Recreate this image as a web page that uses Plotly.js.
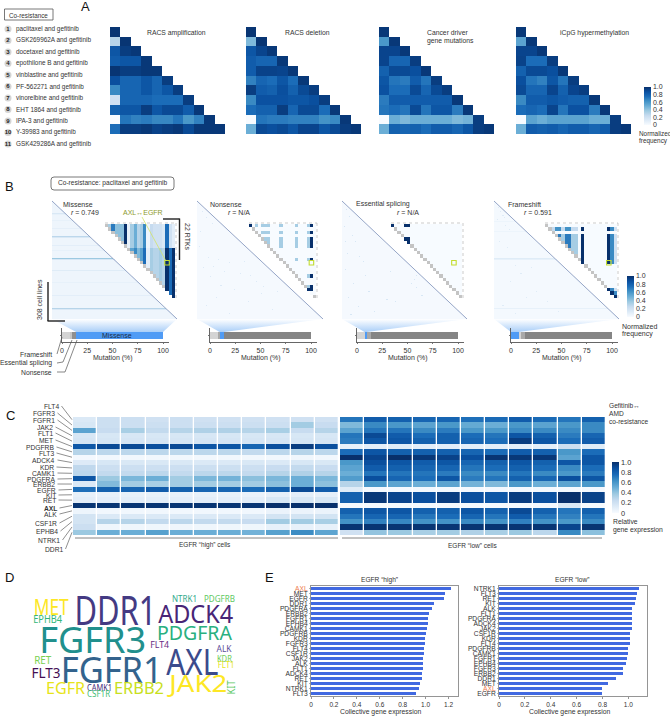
<!DOCTYPE html>
<html><head><meta charset="utf-8">
<script src="https://cdn.plot.ly/plotly-3.0.1.min.js"></script>
<style>html,body{margin:0;padding:0;background:#fff}#c{width:670px;height:717px}</style></head>
<body><div id="c"></div>
<script>
// ---------- DATA ----------
const drugIds=['1','2','3','4','5','6','7','8','9','10','11'];
const drugNames=['paclitaxel and gefitinib','GSK269962A and gefitinib','docetaxel and gefitinib','epothilone B and gefitinib','vinblastine and gefitinib','PF-562271 and gefitinib','vinorelbine and gefitinib','EHT 1864 and gefitinib','IPA-3 and gefitinib','Y-39983 and gefitinib','GSK429286A and gefitinib'];
const racsAmp=[[.98],[.3,.98],[.85,.95,.97],[.82,.85,.85,.97],[.98,.95,.95,.97,.97],[.88,.78,.78,.85,.78,.95],[.65,.78,.78,.85,.78,.85,.95],[.2,.78,.78,.78,.75,.75,.75,.95],[.8,.85,.85,.95,.85,.9,.9,.82,.97],[0,.72,.68,.7,.66,.66,.72,.6,.68,.97],[.75,.95,.95,.97,.93,.95,.97,.9,.97,.97,.97]];
const racsDel=[[.98],[.45,.98],[.85,.92,.97],[.82,.78,.78,.97],[.82,.93,.93,.92,.97],[.68,.78,.75,.85,.75,.97],[.95,.82,.8,.88,.8,.9,.95],[.65,.87,.87,.87,.85,.85,.88,.95],[.75,.8,.8,.95,.78,.9,.9,.75,.97],[0,.72,.7,.7,.68,.68,.68,.62,.65,.97],[.5,.9,.88,.9,.85,.92,.92,.85,.9,.95,.97]];
const driverMut=[[.97],[.6,.97],[.92,.92,.97],[.92,.78,.78,.95],[.8,.9,.9,.88,.97],[.85,.72,.7,.82,.72,.95],[.87,.75,.75,.9,.78,.9,.95],[.7,.82,.82,.82,.82,.82,.82,.97],[.72,.75,.72,.9,.72,.85,.85,.7,.97],[0,.5,.45,.5,.5,.5,.5,.45,.48,.95],[.5,.8,.78,.8,.75,.82,.82,.78,.85,.95,.97]];
const icpgHyper=[[.97],[.55,.97],[.92,.92,.97],[.93,.75,.75,.95],[.8,.9,.9,.88,.97],[.88,.72,.68,.85,.72,.95],[.9,.78,.78,.92,.8,.92,.95],[.65,.82,.82,.85,.82,.8,.8,.97],[.75,.78,.75,.92,.72,.87,.87,.7,.97],[0,.55,.5,.55,.55,.55,.55,.5,.5,.95],[.5,.82,.8,.82,.78,.82,.82,.78,.82,.95,.97]];
const aTitles=['RACS amplification','RACS deletion','Cancer driver','iCpG hypermethylation'];

const rtkRows=['FLT4','FGFR3','FGFR1','JAK2','FLT1','MET','PDGFRB','FLT3','ADCK4','KDR','CAMK1','PDGFRA','ERBB2','EGFR','KIT','RET','AXL','ALK','CSF1R','EPHB4','NTRK1','DDR1'];
const highZ=[
[.14,.22,.22,.2,.22,.2,.2,.2,.2,.2,.2],
[.16,.22,.22,.22,.22,.22,.22,.22,.22,.36,.24],
[.55,.24,.34,.26,.3,.32,.32,.3,.34,.24,.3],
[.16,.16,.16,.16,.16,.16,.16,.16,.16,.16,.16],
[.17,.17,.17,.17,.17,.17,.17,.17,.17,.17,.17],
[.84,.9,.9,.88,.9,.85,.85,.78,.88,.95,.88],
[.3,.28,.28,.28,.28,.28,.28,.26,.28,.3,.28],
[.02,.03,.03,.03,.03,.03,.03,.03,.03,.04,.03],
[.13,.16,.15,.15,.15,.14,.14,.15,.14,.16,.15],
[.27,.22,.22,.22,.22,.22,.22,.22,.24,.26,.24],
[.28,.26,.26,.28,.26,.28,.28,.26,.3,.32,.3],
[.85,.38,.46,.5,.36,.46,.48,.42,.46,.5,.46],
[.14,.44,.36,.34,.36,.36,.36,.36,.42,.5,.42],
[.74,.8,.78,.82,.8,.78,.78,.75,.8,.9,.82],
[.08,.08,.08,.08,.08,.08,.08,.07,.09,.1,.09],
[.1,.1,.1,.1,.1,.1,.1,.1,.16,.16,.16],
[.98,.98,.98,.98,.98,.98,.98,.98,1,1,1],
[.05,.03,.03,.03,.03,.03,.03,.03,.06,.06,.06],
[.18,.14,.14,.14,.14,.14,.14,.14,.18,.18,.18],
[.18,.3,.3,.26,.28,.26,.26,.24,.36,.36,.34],
[.22,.04,.04,.04,.04,.04,.04,.04,.08,.08,.08],
[.38,.5,.5,.56,.5,.5,.5,.48,.56,.64,.54]];
const lowZ=[
[.72,.82,.8,.78,.78,.74,.76,.82,.76,.72,.8],
[.45,.65,.6,.55,.6,.52,.5,.6,.55,.6,.65],
[.55,.72,.72,.65,.7,.6,.6,.65,.65,.65,.65],
[.72,.9,.82,.75,.8,.75,.72,.85,.8,.7,.78],
[.7,.85,.85,.8,.8,.78,.75,.95,.85,.75,.82],
[.08,.1,.12,.1,.1,.1,.1,.1,.1,.22,.12],
[.75,.85,.8,.8,.8,.78,.75,.82,.8,.6,.75],
[1,.92,1,.97,.93,.88,.98,.97,.97,.55,.85],
[.6,.88,.85,.82,.85,.78,.8,.85,.8,.85,.85],
[.55,.82,.8,.78,.78,.72,.75,.8,.75,.65,.75],
[.5,.72,.72,.72,.7,.65,.65,.72,.65,.6,.7],
[.58,.88,.78,.75,.85,.7,.72,.8,.78,.88,.85],
[.3,.6,.55,.5,.55,.48,.45,.6,.5,.55,.6],
[.12,.02,.02,.02,.02,.02,.02,.02,.02,.02,.02],
[.8,.97,.92,.88,.95,.88,.85,.95,.88,1,.93],
[.8,.97,.92,.88,.95,.88,.85,.95,.88,1,.93],
[.01,.01,.01,.01,.01,.01,.01,.01,.02,.14,.01],
[.8,.85,.85,.8,.8,.85,.8,.9,.8,.72,.8],
[.72,.78,.78,.72,.75,.78,.72,.82,.72,.68,.72],
[.62,.68,.66,.62,.62,.65,.62,.68,.62,.6,.65],
[.98,.98,.98,.98,.98,.98,.98,.98,.98,.92,.98],
[.2,.4,.38,.34,.36,.32,.34,.38,.28,.65,.42]];
const labelY=[406,413,420,427,433,440,447,453,460,467,473,479,484,490,495,500,508,514,523,531,540,549];
const labelRight=[60,56,56,54,54,54,55,55,56,55,56,56,56,57,57,57,58,58,58,59,61,64];

const mutNames=['Frameshift','Essential splicing','Nonsense','Missense'];
const mutShare=[7.5,2,4.5,86];
const mutPanels=['Missense','Nonsense','Essential splicing','Frameshift'];
const mutColors=[['#d4d4d4','#c4c4c4','#8f8f8f','#4f9bf5'],['#d4d4d4','#a8a8a8','#4f9bf5','#858585'],['#d4d4d4','#4f9bf5','#a8a8a8','#858585'],['#4f9bf5','#d4d4d4','#a8a8a8','#858585']];
const mutTicks=[0,25,50,75,100];

const msStripeRows=[12,13,19,27,35,36,44,49,57,58,69,81,94,107,108];
const msStripeVals=[.15,.08,.08,.09,.28,.15,.1,.08,.38,.16,.12,.08,.1,.3,.14];
const fsStripeRows=[20,30,57,58,107];
const fsStripeVals=[.05,.05,.12,.08,.08];
const nsDotRow=[10,16,22,30,45,56,58,61,66,72,75,80,84,88,92,96,100,104,108,112,60,70,74,85,65,90];
const nsDotCol=[5,8,14,3,2,10,20,30,6,40,12,55,22,35,60,18,48,8,70,30,44,25,50,62,15,75];
const spDotRow=[8,15,25,34,40,52,60,68,74,74,82,82,90,94,96,100,105,110,113,70,78,86,40,55,98];
const spDotCol=[4,7,2,9,12,5,20,3,22,70,10,65,25,75,6,50,15,30,8,45,68,70,3,16,42];
const fsDotRow=[6,10,14,18,24,40,46,64,72,80,90,96,100,104,110,112,16,28,66];
const fsDotCol=[4,6,8,3,10,5,12,20,25,15,40,30,50,8,60,20,9,14,35];

const msTop=[.35,.35,.7,.42,.42,.42,1,.08,.35,.5,.3,.35,.65,.05,.25,.2,.2,.2,.15,.75,.2,.1];
const msBottom=[.35,.35,.7,.42,.42,.42,1,.2,.55,.65,.45,.55,.75,.1,.35,.3,.3,.35,.3,1,.75,1];
const nsRows=[0,2,4,5,6,10,15,18,19];
const nsCols=[0,2,4,5,6,10,15,19,20];
const spRows=[0,0,0,4,4,5];
const spCols=[0,4,5,4,5,5];
const fsCols=[0,.25,.25,.6,.7,.35,.7,.7,.35,.35,0,1,0,0,0,0,0,0,0,1,.65,.2];
const fsRows=[1,3,4,5,6,7,8,9,10,11,19,20,21];
const axlRow=11;
const egfrCols=[19,20,19,19];

const highNames=['AXL','MET','EGFR','DDR1','PDGFRA','ERBB2','FGFR1','EPHB4','CAMK1','PDGFRB','KDR','FGFR3','FLT4','CSF1R','JAK2','ALK','FLT1','ADCK4','RET','KIT','NTRK1','FLT3'];
const highVals=[1.225,1.17,1.16,1.07,1.055,1.025,1.02,1.02,1.01,1.005,.995,.995,.99,.985,.975,.975,.975,.97,.965,.955,.94,.92];
const lowNames=['NTRK1','FLT3','RET','KIT','ALK','FLT1','PDGFRA','ADCK4','JAK2','CSF1R','KDR','FLT4','PDGFRB','CAMK1','FGFR1','EPHB4','FGFR3','ERBB2','DDR1','MET','AXL','EGFR'];
const lowVals=[1.085,1.065,1.06,1.05,1.03,1.025,1.025,1.025,1.025,1.01,1.01,1.01,1,.995,.99,.98,.96,.955,.905,.845,.795,.795];

const cloudWords=['DDR1','FGFR3','FGFR1','AXL','ADCK4','PDGFRA','JAK2','MET','EPHB4','NTRK1','PDGFRB','FLT4','ALK','KDR','FLT1','KIT','RET','FLT3','EGFR','CAMK1','CSF1R','ERBB2'];
const cloudSizes=[39.5,37,37,37,25.5,20,24,21,10,8,8,9,9,8.5,8.5,10,10,14,17,8,8,17];
const cloudWidths=[82,107,102,52,75,75,58,35,29,25,31,19,15,15,17,14,17,29,39,25,23,50];
const cloudColors=['#443a83','#21908d','#33638d','#3b4b8c','#482576','#2ab07f','#fde725','#fde725','#35b779','#2fa98b','#5ec962','#6a2d84','#5d4e9b','#6ece58','#e6e419','#5cc863','#7ad151','#440f54','#e7e419','#472d7b','#3fbc73','#c8e020'];
const cloudX=[115,92.5,112,193,196,194,197,51,48,184,219,159,224,224,226,231,43,46,66,99,98,139];
const cloudY=[610,638,668,660,613,632,682,607,619,598,598,644,648,658,664,687,660,672,687,687,693,687];

// ---------- HELPERS ----------
const W=670,H=717;
const blues=[[0,'#f7fbff'],[.125,'#deebf7'],[.25,'#c6dbef'],[.375,'#9ecae1'],[.5,'#6baed6'],[.625,'#4292c6'],[.75,'#1b6cb8'],[.875,'#0a50a0'],[1,'#08306b']];
const FONT='"Liberation Sans",Arial,sans-serif';
const TXT='#333333';
const layout={width:W,height:H,margin:{l:0,r:0,t:0,b:0},paper_bgcolor:'#fff',plot_bgcolor:'rgba(0,0,0,0)',showlegend:false,barmode:'stack',font:{family:FONT,size:7,color:TXT},annotations:[],shapes:[]};
const traces=[];
let axN=1;
function axes(x0,x1,y0,y1,xr,yr,xo,yo){
  const n=axN++,s=n===1?'':String(n);
  layout['xaxis'+s]=Object.assign({domain:[x0/W,x1/W],range:xr,anchor:'y'+s,visible:false,fixedrange:true,zeroline:false,showgrid:false},xo||{});
  layout['yaxis'+s]=Object.assign({domain:[1-y1/H,1-y0/H],range:yr,anchor:'x'+s,visible:false,fixedrange:true,zeroline:false,showgrid:false},yo||{});
  return {xaxis:'x'+s,yaxis:'y'+s};
}
function T(x,y,text,o){o=o||{};layout.annotations.push({xref:'paper',yref:'paper',x:x/W,y:1-y/H,text:text,showarrow:false,xanchor:o.a||'left',yanchor:'middle',borderpad:0,textangle:o.r||0,font:{family:o.f||FONT,size:o.s||7,color:o.c||TXT}});}
function L(x0,y0,x1,y1,c,w,d){layout.shapes.push({type:'line',xref:'paper',yref:'paper',x0:x0/W,y0:1-y0/H,x1:x1/W,y1:1-y1/H,line:{color:c||'#555',width:w||.7,dash:d||'solid'}});}
function bullets(ax,xs,ys,texts,size,fs){traces.push(Object.assign({type:'scatter',mode:'markers+text',x:xs,y:ys,text:texts.map(t=>'<b>'+t+'</b>'),textposition:'middle center',cliponaxis:false,marker:{size:size||7.5,color:'#d4d4d4'},textfont:{size:fs||6,color:'#222',family:FONT},hoverinfo:'skip'},ax));}
const pad=m=>m.map(r=>r.concat(new Array(m.length-r.length).fill(null)));
const ticks01=[0,.2,.4,.6,.8,1],tickT=['0','0.2','0.4','0.6','0.8','1.0'];
function cbar(x,y0,y1,th,fs){return {x:x/W,xanchor:'left',y:1-y0/H,yanchor:'top',len:(y1-y0)/H,lenmode:'fraction',thickness:th,thicknessmode:'pixels',tickvals:ticks01,ticktext:tickT,tickfont:{size:fs,color:TXT,family:FONT},ticks:'',outlinewidth:0,xpad:0,ypad:0,ticklabelposition:'outside',borderwidth:0};}
function heat(ax,z,extra){traces.push(Object.assign({type:'heatmap',z:z,zmin:0,zmax:1,colorscale:blues,showscale:false,hoverinfo:'skip',zsmooth:false},ax,extra||{}));}

// ---------- PANEL A ----------
layout.shapes.push({type:'rect',xref:'paper',yref:'paper',x0:4.5/W,x1:53/W,y0:1-9/H,y1:1-20/H,line:{color:'#555',width:.8}});
T(8,15,'Co-resistance',{s:6.3});
T(85,6,'A',{s:13,a:'center',c:'#111'});
const overlay=axes(0,W,0,H,[0,W],[H,0]);
bullets(overlay,drugIds.map(()=>8),drugIds.map((d,i)=>29+i*11.5),drugIds,7,6);
drugNames.forEach((n,i)=>T(14.5,29+i*11.5,n,{s:6.4}));
const aX=[[110,225],[246,361],[379,494],[516,631]];
[racsAmp,racsDel,driverMut,icpgHyper].forEach((m,k)=>{
  const a=axes(aX[k][0],aX[k][1],27,134,[-.5,10.5],[10.5,-.5]);
  heat(a,pad(m),k===3?{showscale:true,colorbar:cbar(644,87,125,6.5,7)}:{});
  bullets(a,drugIds.map(()=>-1.08),drugIds.map((d,i)=>i),drugIds);
  bullets(a,drugIds.map((d,i)=>i),drugIds.map(()=>11.2),drugIds);
});
T(176,33,aTitles[0],{a:'center',s:6.8});T(307,33,aTitles[1],{a:'center',s:6.8});
T(426,32,aTitles[2],{s:6.8});T(426,41,'gene mutations',{s:6.8});T(594,33,aTitles[3],{a:'center',s:6.8});
T(638,133,'Normalized',{s:6.4});T(638,141,'frequency',{s:6.4});

// ---------- PANEL B ----------
T(9,187,'B',{s:13,a:'center',c:'#111'});
layout.shapes.push({type:'path',xref:'paper',yref:'paper',path:(()=>{const x0=51/W,x1=174/W,y0=1-177/H,y1=1-190/H,dx=3/W,dy=3/H;return `M${x0+dx},${y0} L${x1-dx},${y0} Q${x1},${y0} ${x1},${y0-dy} L${x1},${y1+dy} Q${x1},${y1} ${x1-dx},${y1} L${x0+dx},${y1} Q${x0},${y1} ${x0},${y1+dy} L${x0},${y0-dy} Q${x0},${y0} ${x0+dx},${y0} Z`;})(),line:{color:'#555',width:.8}});
T(112.5,183.5,'Co-resistance: paclitaxel and gefitinib',{a:'center',s:6.6});
const N=118,MS=22;
function triangle(base,sRows,sVals,dRows,dCols,dVal){
  const z=[];
  for(let r=0;r<N;r++){const row=new Array(N).fill(null);for(let c=0;c<=r;c++)row[c]=base;z.push(row);}
  sRows.forEach((r,i)=>{for(let c=0;c<=r;c++)z[r][c]=sVals[i];});
  dRows.forEach((r,i)=>{if(dCols[i]<=r){z[r][dCols[i]]=dVal;}});
  return z;
}
const bigX=[[52,177],[197,323],[342,467],[494,619]];
const insetX=[[105,175],[249,316],[391,462],[545,617]];
const barX=[[62,163],[210,311],[357,458],[511,612]];
const bigZ=[triangle(.045,msStripeRows,msStripeVals,[],[],0),triangle(.012,[],[],nsDotRow,nsDotCol,.13),triangle(.012,[],[],spDotRow,spDotCol,.16),triangle(.014,fsStripeRows,fsStripeVals,fsDotRow,fsDotCol,.12)];
function inset(k){
  const z=[],d=[];
  for(let r=0;r<MS;r++){const zr=new Array(MS).fill(null),dr=new Array(MS).fill(null);
    for(let c=r;c<MS;c++){
      let v=0;
      if(k===0)v=(r<7?msTop:msBottom)[c];
      if(k===1&&nsRows.includes(r)&&nsCols.includes(c))v=(c===20||c===r&&r===0||(r===19&&c===19))?1:.35;
      if(k===2)spRows.forEach((sr,i)=>{if(sr===r&&spCols[i]===c)v=1;});
      if(k===3&&fsRows.includes(r))v=(r===1&&c<10)?(c===3||c===4||c===6||c===7?.62:.25):(r===20?(c===20?1:.65):(r===21?1:fsCols[c]));
      zr[c]=v;
    }
    const colored=k===0?r>=19:k===1?[0,19,20].includes(r):k===2?[0,4,5].includes(r):[11,19,20,21].includes(r);
    if(!colored){zr[r]=null;dr[r]=1;}
    z.push(zr);d.push(dr);
  }
  return [z,d];
}
mutPanels.forEach((name,k)=>{
  const big=axes(bigX[k][0],bigX[k][1],201,319,[-.5,N-.5],[N-.5,-.5]);
  heat(big,bigZ[k]);
  L(bigX[k][0],201,bigX[k][1],319,'#7c8fb8',.8);
  const ia=axes(insetX[k][0],insetX[k][1],224,298,[-.5,MS-.5],[MS-.5,-.5]);
  const iz=inset(k);
  heat(ia,iz[0],k===3?{showscale:true,colorbar:cbar(627,276,317,6.5,7)}:{});
  traces.push(Object.assign({type:'heatmap',z:iz[1],zmin:0,zmax:1,colorscale:[[0,'#c4c4c4'],[1,'#c4c4c4']],showscale:false,hoverinfo:'skip'},ia));
  traces.push(Object.assign({type:'scatter',mode:'markers',x:[egfrCols[k]],y:[axlRow],cliponaxis:false,marker:{symbol:'square-open',size:4.5,color:'#c3dc2f',line:{width:1.1,color:'#c3dc2f'}},hoverinfo:'skip'},ia));
  L(insetX[k][0],223,insetX[k][1]+1,223,'#aaa',.6,'dot');
  L(insetX[k][1]+1,223,insetX[k][1]+1,299,'#aaa',.6,'dot');
  // funnel + bar
  const bx=barX[k],u=(bx[1]-bx[0])/100;
  let start=0,colorIdx=mutColors[k].indexOf('#4f9bf5');
  for(let i=0;i<colorIdx;i++)start+=mutShare[i];
  const f0=bx[0]+start*u,f1=f0+mutShare[colorIdx]*u;
  traces.push(Object.assign({type:'scatter',mode:'lines',x:[bigX[k][0],bigX[k][1],f1,f0,bigX[k][0]],y:[319,319,332,332,319],fill:'toself',line:{width:0,color:'rgba(0,0,0,0)'},fillgradient:{type:'vertical',colorscale:[[0,'#a9cef8'],[1,'#ffffff']]},hoverinfo:'skip'},overlay));
  const ba=axes(bx[0],bx[0]+106*u,328,342,[0,106],[-1,1],{visible:true,showline:true,linecolor:'#555',linewidth:.9,ticks:'outside',ticklen:1.5,tickwidth:.8,tickcolor:'#555',tickmode:'array',tickvals:mutTicks,ticktext:mutTicks.map(String),tickfont:{size:7,color:TXT,family:FONT}},{visible:true,showline:true,linecolor:'#555',linewidth:.9,ticks:'outside',ticklen:1.5,tickwidth:.8,tickcolor:'#555',tickmode:'array',tickvals:[0],ticktext:[''],showticklabels:false});
  mutNames.forEach((m,i)=>traces.push(Object.assign({type:'bar',orientation:'h',x:[mutShare[i]],y:[0],width:1,marker:{color:mutColors[k][i],line:{width:0}},hoverinfo:'skip'},ba)));
  T((bx[0]+bx[1])/2+.5,358,'Mutation (%)',{a:'center',s:7});
});
T(117,335.5,'Missense',{a:'center',s:7,c:'#1a2a44'});
T(62,204,'Missense',{s:7});T(85,213,'<i>r</i> = 0.749',{a:'center',s:7});
T(209,204,'Nonsense',{s:7});T(239,213,'<i>r</i> = N/A',{a:'center',s:7});
T(355,204,'Essential splicing',{s:7});T(408,213,'<i>r</i> = N/A',{a:'center',s:7});
T(507,204,'Frameshift',{s:7});T(538,213,'<i>r</i> = 0.591',{a:'center',s:7});
T(143,212.5,'AXL↔EGFR',{a:'center',s:7,c:'#8c9a2e'});
L(142,217,166,261,'#d3e36a',.8);
L(163,219,179.5,219,'#222',1.4);L(179.5,218.5,179.5,260,'#222',1.4);
T(188,237,'22 RTKs',{a:'center',s:7,r:90});
L(48,282,48,321,'#222',1.4);L(47.5,321,65,321,'#222',1.4);
T(39,300,'308 cell lines',{a:'center',s:7,r:-90});
T(53,354,mutNames[0],{a:'right',s:6.8});T(53,363,mutNames[1],{a:'right',s:6.8});T(53,372,mutNames[2],{a:'right',s:6.8});
L(57,354,62,337,'#555',.7);
L(57,363,63,362,'#555',.7);L(63,362,72,340,'#555',.7);
L(57,372,65,372,'#555',.7);L(65,372,77,340,'#555',.7);
T(621,326,'Normalized',{s:7});T(621,334,'frequency',{s:7});

// ---------- PANEL C ----------
T(10,416,'C',{s:13,a:'center',c:'#111'});
const rowH=(535-417)/22;
const ch=axes(73,339,417,535,[-.5,10.5],[21.5,-.5]);
heat(ch,highZ,{xgap:1.3});
const cl=axes(340,606,417,535,[-.5,10.5],[21.5,-.5]);
heat(cl,lowZ,{xgap:1.3,showscale:true,colorbar:cbar(612,462,513,7,7.4)});
bullets(ch,drugIds.map((d,i)=>i),drugIds.map(()=>-2.2),drugIds,8);
bullets(cl,drugIds.map((d,i)=>i),drugIds.map(()=>-2.2),drugIds,8);
rtkRows.forEach((n,i)=>{
  T(labelRight[i],labelY[i],n==='AXL'?'<b>AXL</b>':n,{a:'right',s:6.7});
  L(labelRight[i]+1.5,labelY[i],72,417+(i+.5)*rowH,'#444',.6);
});
L(75,538,338,538,'#666',.8);L(342,538,602,538,'#666',.8);
T(205,545,'EGFR “high” cells',{a:'center',s:6.5});T(473,545,'EGFR “low” cells',{a:'center',s:6.5});
T(608,405,'Gefitinib↔',{s:6.6});T(608,413,'AMD',{s:6.6});T(608,421,'co-resistance',{s:6.6});
T(612,521.5,'Relative',{s:6.8});T(612,529.5,'gene expression',{s:6.8});

// ---------- PANEL D ----------
T(9,577,'D',{s:13,a:'center',c:'#111'});
const cloudStart=layout.annotations.length;
cloudWords.forEach((w,i)=>T(cloudX[i],cloudY[i],w,{a:'center',s:cloudSizes[i],c:cloudColors[i],f:'"Noto Sans",sans-serif',r:w==='KIT'?-90:0}));

// ---------- PANEL E ----------
T(269,577,'E',{s:13,a:'center',c:'#111'});
function hbar(x0,x1,xmax,names,vals,tv){
  const tt=names.map(n=>n==='AXL'?'<span style="color:#ee7b4d">AXL</span>':n);
  const a=axes(x0,x1,586,696,[0,xmax],[21.5,-.5],
   {visible:true,showline:true,mirror:true,linecolor:'#8a8a8a',linewidth:.9,ticks:'outside',ticklen:2,tickwidth:.7,tickcolor:'#666',tickmode:'array',tickvals:tv,ticktext:tv.map(v=>v===0?'0':v.toFixed(1)),tickfont:{size:6.5,color:TXT,family:FONT}},
   {visible:true,showline:true,mirror:true,linecolor:'#8a8a8a',linewidth:.9,ticks:'outside',ticklen:1,tickwidth:.5,tickcolor:'#666',tickmode:'array',tickvals:names.map((n,i)=>i),ticktext:tt,tickfont:{size:6.7,color:TXT,family:FONT}});
  traces.push(Object.assign({type:'bar',orientation:'h',x:vals,y:names.map((n,i)=>i),width:.5,marker:{color:'#4169e1',line:{width:0}},hoverinfo:'skip'},a));
}
hbar(311,458.3,1.285,highNames,highVals,[0,.2,.4,.6,.8,1,1.2]);
hbar(499,646.7,1.142,lowNames,lowVals,[0,.2,.4,.6,.8,1]);
T(379,579.5,'EGFR “high”',{a:'center',s:6.6});T(572,579.5,'EGFR “low”',{a:'center',s:6.6});
T(380,712,'Collective gene expression',{a:'center',s:6.8});T(569,712,'Collective gene expression',{a:'center',s:6.8});

Plotly.newPlot('c',traces,layout,{displayModeBar:false,staticPlot:true}).then(()=>{
  cloudWords.forEach((w,i)=>{
    const el=document.querySelector('.annotation[data-index="'+(cloudStart+i)+'"] text');
    if(el){el.setAttribute('textLength',cloudWidths[i]);el.setAttribute('lengthAdjust','spacingAndGlyphs');}
  });
});
</script></body></html>
